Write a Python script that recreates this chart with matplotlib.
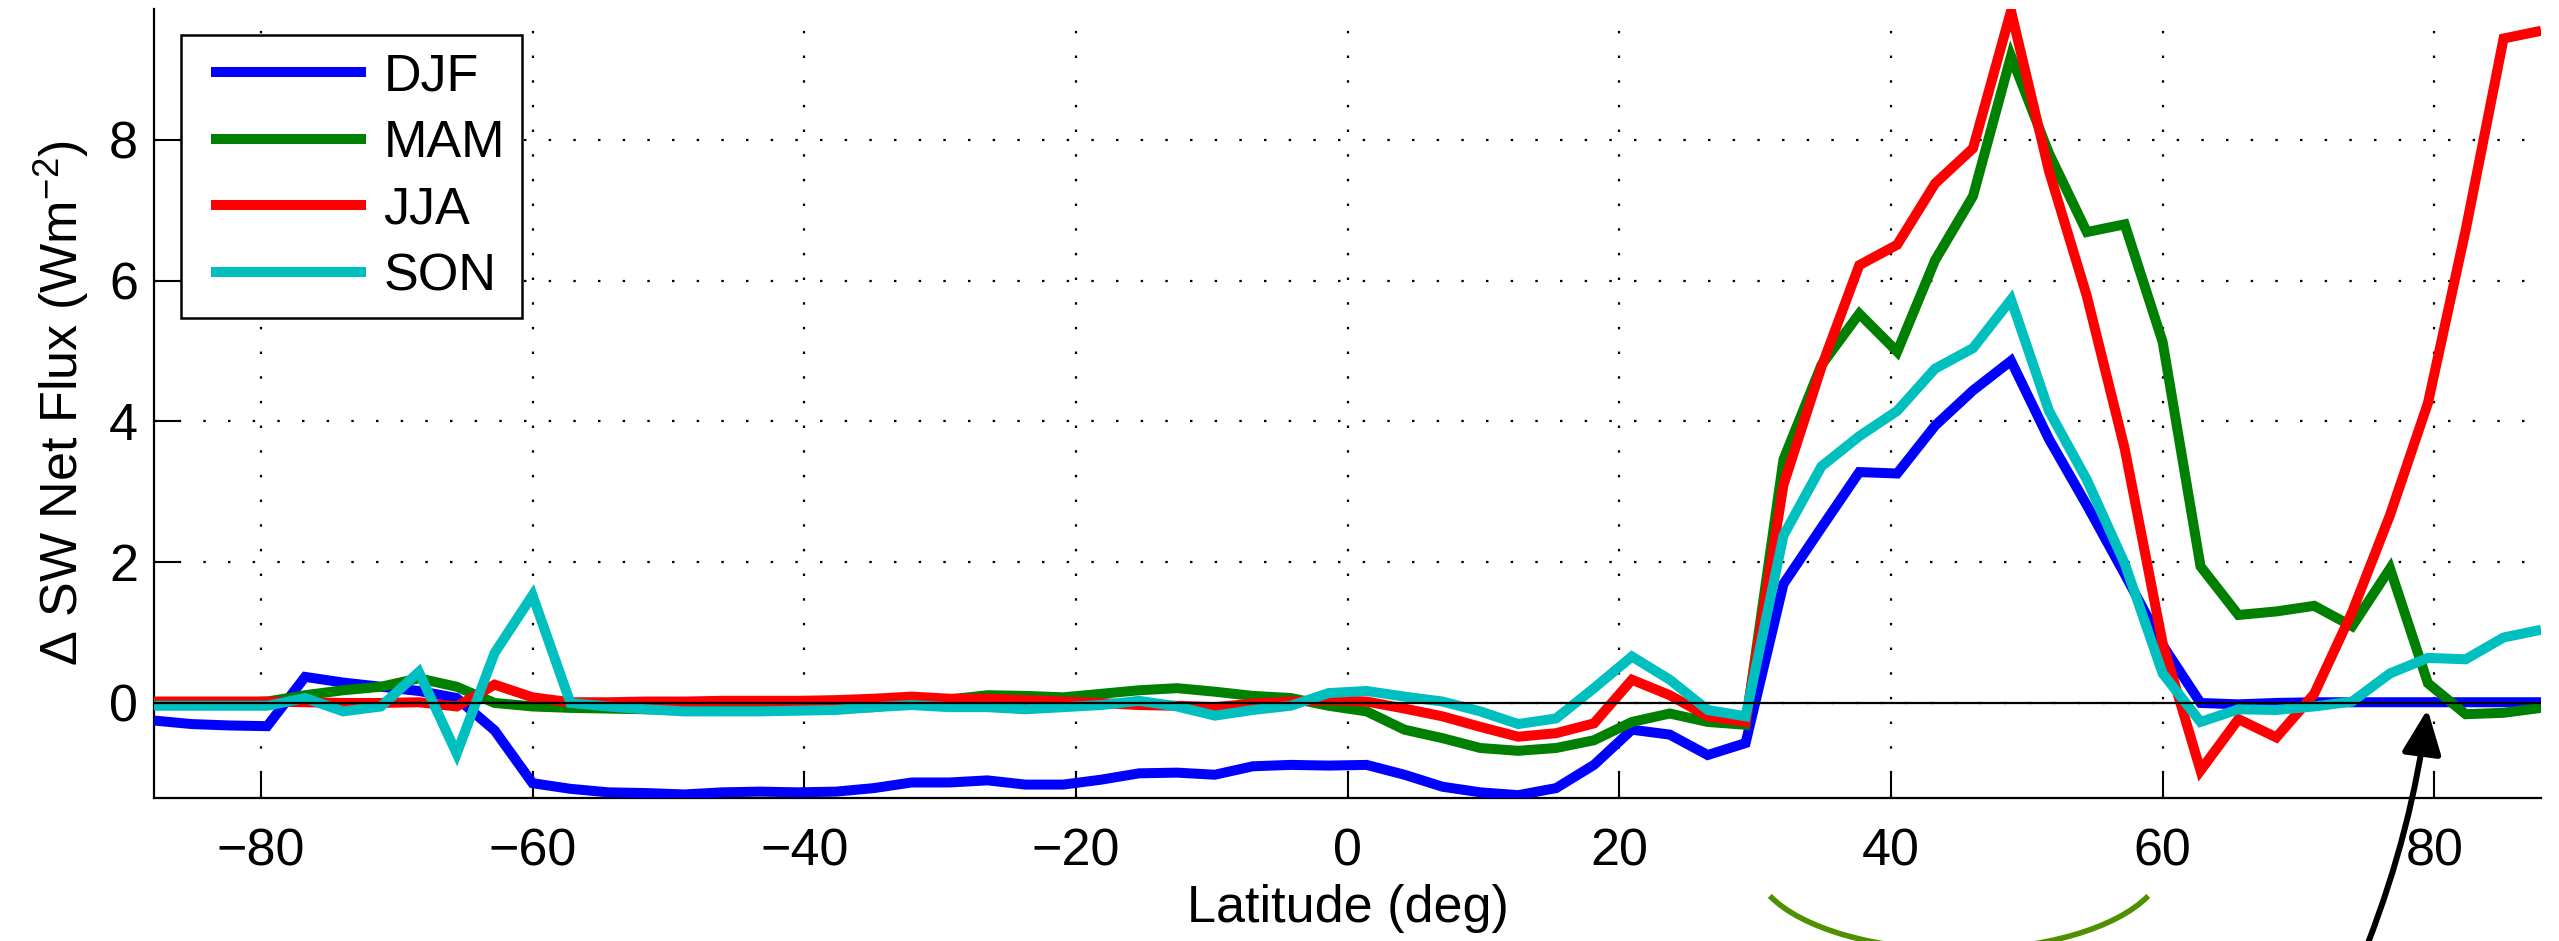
import matplotlib
matplotlib.use('Agg')
import matplotlib.pyplot as plt
from matplotlib.patches import Arc
from matplotlib.lines import Line2D
from matplotlib.legend_handler import HandlerLine2D
from matplotlib.transforms import IdentityTransform

plt.rcParams['font.family'] = ['Liberation Sans', 'DejaVu Sans']
plt.rcParams['mathtext.fontset'] = 'custom'
plt.rcParams['mathtext.rm'] = 'Liberation Sans'
plt.rcParams['mathtext.it'] = 'Liberation Sans:italic'

# T42 gaussian latitudes
lat = [-87.86, -85.10, -82.31, -79.53, -76.74, -73.95, -71.16, -68.37, -65.58, -62.79,
       -60.00, -57.21, -54.42, -51.63, -48.84, -46.04, -43.25, -40.46, -37.67, -34.88,
       -32.09, -29.30, -26.51, -23.72, -20.93, -18.14, -15.35, -12.56, -9.77, -6.98,
       -4.19, -1.40, 1.40, 4.19, 6.98, 9.77, 12.56, 15.35, 18.14, 20.93,
       23.72, 26.51, 29.30, 32.09, 34.88, 37.67, 40.46, 43.25, 46.04, 48.84,
       51.63, 54.42, 57.21, 60.00, 62.79, 65.58, 68.37, 71.16, 73.95, 76.74,
       79.53, 82.31, 85.10, 87.86]

djf = [-0.25, -0.30, -0.32, -0.33, 0.37, 0.29, 0.23, 0.17, 0.07, -0.39,
       -1.14, -1.22, -1.27, -1.28, -1.30, -1.27, -1.26, -1.27, -1.26, -1.21,
       -1.13, -1.13, -1.10, -1.16, -1.16, -1.09, -1.00, -0.99, -1.02, -0.90,
       -0.88, -0.89, -0.88, -1.02, -1.19, -1.27, -1.31, -1.21, -0.88, -0.38,
       -0.45, -0.74, -0.57, 1.69, 2.49, 3.28, 3.26, 3.94, 4.44, 4.86,
       3.75, 2.81, 1.83, 0.82, 0.00, -0.02, 0.00, 0.01, 0.01, 0.01,
       0.01, 0.01, 0.01, 0.01]

mam = [0.00, 0.00, 0.00, 0.02, 0.11, 0.18, 0.23, 0.35, 0.23, 0.00,
       -0.05, -0.07, -0.08, -0.09, -0.10, -0.10, -0.09, -0.08, -0.08, -0.06,
       0.00, 0.05, 0.11, 0.10, 0.08, 0.13, 0.18, 0.21, 0.16, 0.10,
       0.07, -0.04, -0.12, -0.38, -0.50, -0.64, -0.68, -0.64, -0.53, -0.27,
       -0.15, -0.27, -0.31, 3.46, 4.80, 5.53, 4.99, 6.29, 7.20, 9.19,
       7.81, 6.69, 6.80, 5.13, 1.94, 1.25, 1.30, 1.38, 1.09, 1.91,
       0.28, -0.16, -0.14, -0.07]

jja = [0.02, 0.02, 0.02, 0.02, 0.01, 0.00, 0.00, 0.01, -0.05, 0.26,
       0.08, 0.01, 0.01, 0.02, 0.02, 0.03, 0.03, 0.03, 0.04, 0.06,
       0.09, 0.06, 0.06, 0.04, 0.02, 0.00, -0.03, -0.04, -0.06, -0.01,
       0.02, 0.04, 0.02, -0.08, -0.19, -0.34, -0.48, -0.43, -0.29, 0.33,
       0.11, -0.19, -0.27, 3.10, 4.77, 6.22, 6.51, 7.38, 7.88, 9.83,
       7.56, 5.78, 3.61, 0.85, -0.96, -0.23, -0.49, 0.13, 1.29, 2.67,
       4.26, 6.72, 9.44, 9.55]

son = [-0.04, -0.04, -0.04, -0.04, 0.07, -0.12, -0.05, 0.44, -0.72, 0.71,
       1.53, 0.00, -0.05, -0.09, -0.12, -0.12, -0.12, -0.11, -0.10, -0.06,
       -0.03, -0.06, -0.06, -0.09, -0.06, -0.03, 0.03, -0.05, -0.18, -0.10,
       -0.04, 0.14, 0.17, 0.09, 0.02, -0.12, -0.30, -0.22, 0.21, 0.66,
       0.33, -0.10, -0.19, 2.38, 3.36, 3.79, 4.15, 4.75, 5.04, 5.73,
       4.15, 3.17, 1.98, 0.42, -0.27, -0.09, -0.10, -0.05, 0.02, 0.42,
       0.64, 0.62, 0.93, 1.04]

labels = ['DJF', 'MAM', 'JJA', 'SON']
colors = ['#0000ff', '#008000', '#ff0000', '#00bfbf']
xticks = [-80, -60, -40, -20, 0, 20, 40, 60, 80]
yticks = [0, 2, 4, 6, 8]

fs = 37.5

fig = plt.figure(figsize=(25.59, 9.41), dpi=100)
ax = fig.add_axes([0.0602, 0.152, 0.9328, 0.8385])

for ys, lab, c in zip([djf, mam, jja, son], labels, colors):
    ax.plot(lat, ys, color=c, lw=7.2, label=lab, solid_joinstyle='miter',
            solid_capstyle='butt', zorder=3)

ax.axhline(0, color='black', lw=1.6, zorder=5)

ax.set_xlim(-87.86, 87.86)
ax.set_ylim(-1.35, 9.86)
ax.set_xticks(xticks)
ax.set_yticks(yticks)
ax.grid(True, color='black', lw=1.6, linestyle=(0, (1.1, 10)), zorder=1)

for s in ['top', 'right']:
    ax.spines[s].set_visible(False)
for s in ['left', 'bottom']:
    ax.spines[s].set_linewidth(1.6)

ax.tick_params(direction='in', length=18, width=1.5, labelsize=fs)
ax.tick_params(axis='x', pad=21)
ax.tick_params(axis='y', pad=11.5)

ax.set_xlabel('Latitude (deg)', fontsize=fs, labelpad=6)
ax.set_ylabel('\u0394 SW Net Flux (Wm$^{-2}$)', fontsize=fs, labelpad=13)

leg = ax.legend(loc='upper left', bbox_to_anchor=(0.0113, 0.967), borderaxespad=0,
                fontsize=fs, handlelength=3.23, handletextpad=0.33, labelspacing=0.34,
                borderpad=0.33, fancybox=False, framealpha=1, edgecolor='black',
                handler_map={Line2D: HandlerLine2D(xpad=0.25)})
leg.get_frame().set_linewidth(1.8)
leg.set_zorder(10)

# hand-drawn style annotations below the axis
arc = Arc((1959, 79), 410, 176, theta1=190.15, theta2=349.85, color='#4e9000', lw=4,
          transform=IdentityTransform())
fig.add_artist(arc)
ax.annotate('', xy=(79.5, -0.09), xycoords='data', xytext=(2368, -2),
            textcoords='figure pixels', annotation_clip=False,
            arrowprops=dict(arrowstyle='-|>,head_length=0.45,head_width=0.2',
                            mutation_scale=60, lw=4.3, color='black',
                            connectionstyle='arc3,rad=0.06', shrinkA=0, shrinkB=0))

fig.savefig('out.png', dpi=100)
